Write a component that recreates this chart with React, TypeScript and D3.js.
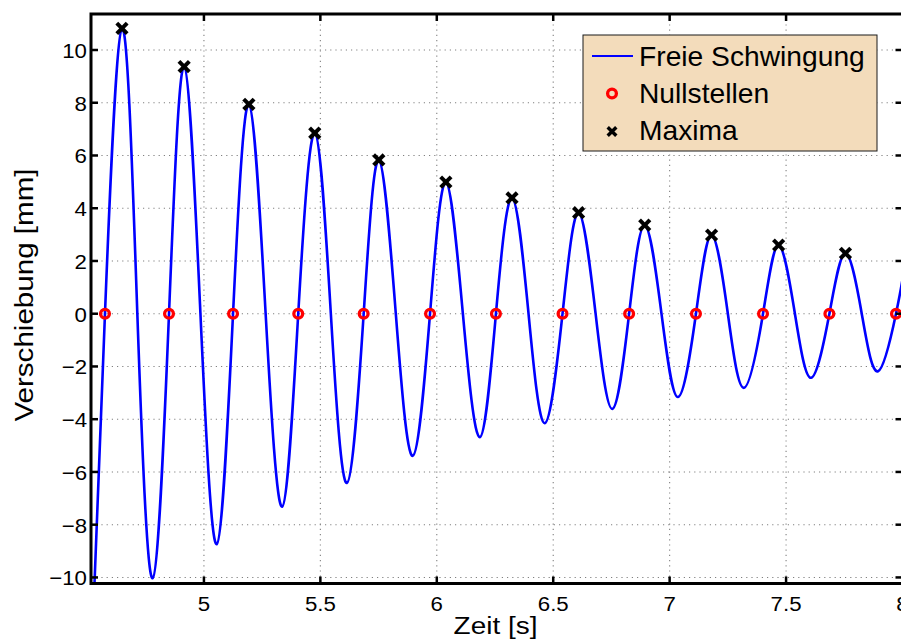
import React from "react";
import * as d3 from "d3";

// ---- data ----
const startPoint: [number, number] = [4.53, -10.23];
const endPoint: [number, number] = [8.0, 1.3];

const maxTimes = [4.648, 4.915, 5.193, 5.476, 5.751, 6.039, 6.323, 6.609, 6.893, 7.18, 7.468, 7.755];
const maxValues = [10.82, 9.37, 7.94, 6.85, 5.83, 4.99, 4.39, 3.83, 3.36, 2.98, 2.6, 2.29];

const minTimes = [4.78, 5.055, 5.336, 5.614, 5.897, 6.185, 6.464, 6.754, 7.036, 7.319, 7.607, 7.895];
const minValues = [-10.03, -8.74, -7.32, -6.42, -5.39, -4.68, -4.15, -3.61, -3.16, -2.81, -2.43, -2.18];

// rising zero crossings (marked with circles)
const zeroTimes = [4.575, 4.85, 5.125, 5.405, 5.686, 5.971, 6.254, 6.54, 6.826, 7.113, 7.401, 7.686, 7.972];
// falling zero crossings (not marked)
const fallZeroTimes = [4.714, 4.985, 5.265, 5.545, 5.824, 6.112, 6.394, 6.682, 6.965, 7.25, 7.538, 7.825];

const xTicks = [5, 5.5, 6, 6.5, 7, 7.5, 8];
const yTicks = [-10, -8, -6, -4, -2, 0, 2, 4, 6, 8, 10];

const legendLabels = ["Freie Schwingung", "Nullstellen", "Maxima"];
const xLabel = "Zeit [s]";
const yLabel = "Verschiebung [mm]";

// ---- layout ----
const W = 901;
const H = 641;
const left = 91;
const right = 902.5;
const top = 14;
const bottom = 583.5;
const FONT = "'Liberation Sans', Arial, Helvetica, sans-serif";

const fmt = (v: number) => (v < 0 ? "\u2212" + String(Math.abs(v)) : String(v));

export default function App() {
  const x = d3.scaleLinear().domain([4.515, 8.0]).range([left, right]);
  const y = d3.scaleLinear().domain([-10.23, 11.365]).range([bottom, top]);

  const pts: [number, number][] = [
    startPoint,
    ...zeroTimes.map((t) => [t, 0] as [number, number]),
    ...fallZeroTimes.map((t) => [t, 0] as [number, number]),
    ...maxTimes.map((t, i) => [t, maxValues[i]] as [number, number]),
    ...minTimes.map((t, i) => [t, minValues[i]] as [number, number]),
    endPoint,
  ].sort((a, b) => a[0] - b[0]);

  const line = d3
    .line<[number, number]>()
    .x((d) => x(d[0]))
    .y((d) => y(d[1]))
    .curve(d3.curveNatural);

  const tickLen = 7;
  const cross = (cx: number, cy: number, s: number, sw: number, key: string) => (
    <g key={key} stroke="#000" strokeWidth={sw} strokeLinecap="butt">
      <line x1={cx - s} y1={cy - s} x2={cx + s} y2={cy + s} />
      <line x1={cx - s} y1={cy + s} x2={cx + s} y2={cy - s} />
    </g>
  );

  const legX = 583;
  const legY = 35;
  const legW = 294;
  const legH = 116;
  const rowY = [56, 93.5, 131.5];
  const baseY = [65.5, 103, 140];

  return (
    <svg
      width={W}
      height={H}
      style={{ position: "absolute", left: 0, top: 0, background: "#fff" }}
      fontFamily={FONT}
    >
      <defs>
        <clipPath id="plotclip">
          <rect x={left} y={top} width={right - left} height={bottom - top} />
        </clipPath>
      </defs>
      <rect x={0} y={0} width={W} height={H} fill="#fff" />

      {/* grid */}
      <g stroke="#808080" strokeWidth={1.1} strokeDasharray="1.2,4">
        {yTicks.map((v) => (
          <line key={"gy" + v} x1={left} x2={right} y1={y(v)} y2={y(v)} />
        ))}
        {xTicks.map((v) => (
          <line key={"gx" + v} x1={x(v)} x2={x(v)} y1={top} y2={bottom} />
        ))}
      </g>

      {/* curve */}
      <g clipPath="url(#plotclip)">
        <path d={line(pts) || ""} fill="none" stroke="#0000ff" strokeWidth={2.6} />
      </g>

      {/* zero markers */}
      <g fill="none" stroke="#ff0000" strokeWidth={3.3}>
        {zeroTimes.map((t) => (
          <circle key={"z" + t} cx={x(t)} cy={y(0)} r={4.4} />
        ))}
      </g>

      {/* maxima markers */}
      {maxTimes.map((t, i) => cross(x(t), y(maxValues[i]), 5.2, 4, "m" + t))}

      {/* axes frame */}
      <rect
        x={left}
        y={top}
        width={right - left}
        height={bottom - top}
        fill="none"
        stroke="#000"
        strokeWidth={3}
      />
      {/* ticks */}
      <g stroke="#000" strokeWidth={2.5}>
        {xTicks.map((v) => (
          <g key={"tx" + v}>
            <line x1={x(v)} x2={x(v)} y1={bottom} y2={bottom - tickLen} />
            <line x1={x(v)} x2={x(v)} y1={top} y2={top + tickLen} />
          </g>
        ))}
        {yTicks.map((v) => (
          <g key={"ty" + v}>
            <line x1={left} x2={left + tickLen} y1={y(v)} y2={y(v)} />
            <line x1={right} x2={right - tickLen} y1={y(v)} y2={y(v)} />
          </g>
        ))}
      </g>

      {/* tick labels */}
      <g fontSize={21} fill="#000">
        {xTicks.map((v) => (
          <g key={"lx" + v} transform={`translate(${x(v)},${610.5}) scale(1.06,1)`}>
            <text textAnchor="middle">{fmt(v)}</text>
          </g>
        ))}
        {yTicks.map((v) => (
          <g key={"ly" + v} transform={`translate(${87},${y(v) + 8}) scale(1.06,1)`}>
            <text textAnchor="end">{fmt(v)}</text>
          </g>
        ))}
      </g>

      {/* axis labels */}
      <g transform={`translate(495.5,634) scale(1.14,1)`}>
        <text textAnchor="middle" fontSize={24.5} fill="#000">
          {xLabel}
        </text>
      </g>
      <g transform={`translate(33,295) rotate(-90) scale(1.16,1)`}>
        <text textAnchor="middle" fontSize={25.5} fill="#000">
          {yLabel}
        </text>
      </g>

      {/* legend */}
      <rect
        x={legX}
        y={legY}
        width={legW}
        height={legH}
        fill="#f3dcbb"
        stroke="#1a1a1a"
        strokeWidth={1}
      />
      <line x1={592} x2={633} y1={rowY[0]} y2={rowY[0]} stroke="#0000ff" strokeWidth={2} />
      <circle cx={612} cy={rowY[1]} r={4.4} fill="none" stroke="#ff0000" strokeWidth={3.3} />
      {cross(612, rowY[2], 4.3, 3.4, "legx")}
      {legendLabels.map((l, i) => (
        <g key={"lg" + i} transform={`translate(639,${baseY[i]}) scale(1.045,1)`}>
          <text fontSize={27} fill="#000">
            {l}
          </text>
        </g>
      ))}
    </svg>
  );
}
